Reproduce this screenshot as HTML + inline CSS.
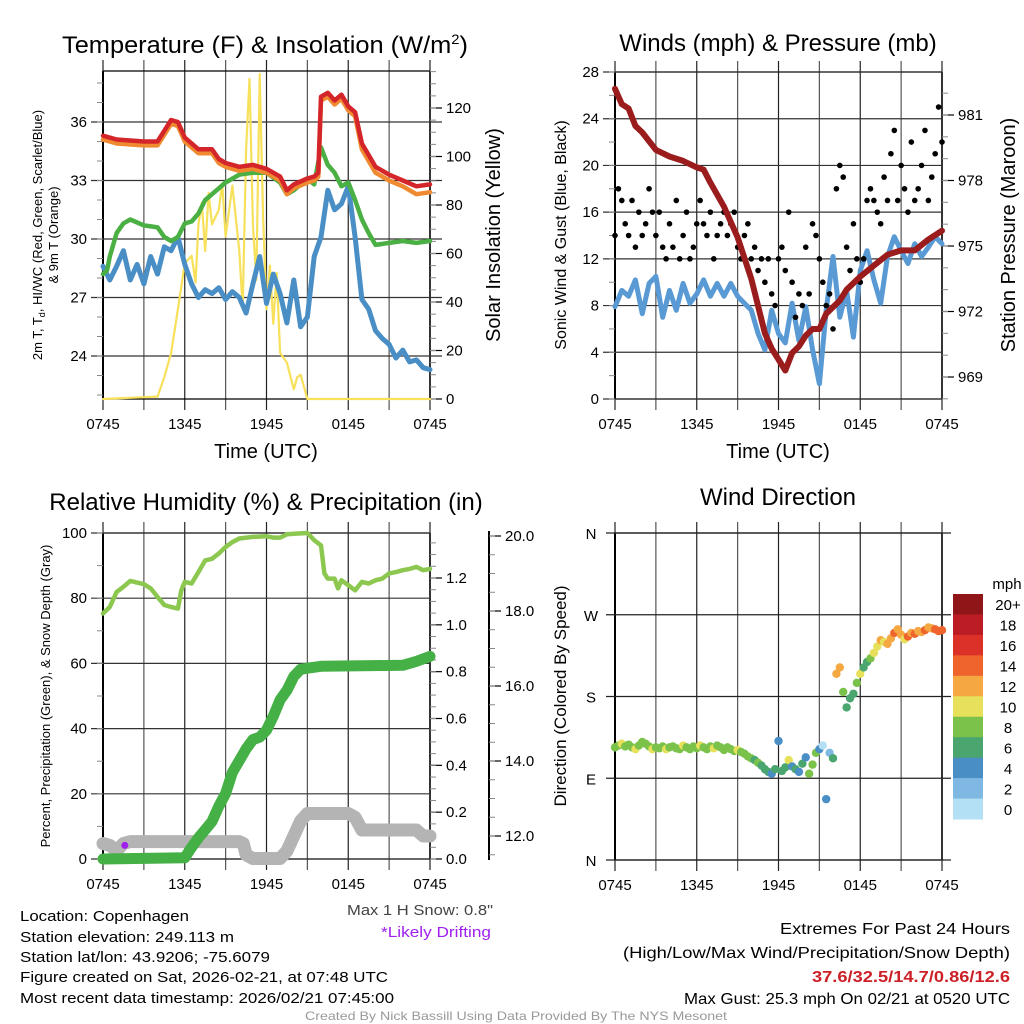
<!DOCTYPE html>
<html><head><meta charset="utf-8"><style>
html,body{margin:0;padding:0;background:#fff}
svg{display:block;font-family:"Liberation Sans",sans-serif}
</style></head><body>
<svg id="root" width="1024" height="1024" viewBox="0 0 1024 1024" xmlns="http://www.w3.org/2000/svg">
<rect width="1024" height="1024" fill="#fff"/>
<text x="265" y="53" font-size="24" text-anchor="middle" textLength="406" lengthAdjust="spacingAndGlyphs">Temperature (F) &amp; Insolation (W/m<tspan font-size="14" dy="-9">2</tspan><tspan dy="9">)</tspan></text>
<text x="778" y="51" font-size="24" text-anchor="middle">Winds (mph) &amp; Pressure (mb)</text>
<text x="266" y="510" font-size="24" text-anchor="middle">Relative Humidity (%) &amp; Precipitation (in)</text>
<text x="778" y="505" font-size="24" text-anchor="middle">Wind Direction</text>
<text x="266" y="458" font-size="20" text-anchor="middle">Time (UTC)</text>
<text x="778" y="458" font-size="20" text-anchor="middle">Time (UTC)</text>
<text transform="translate(42,235) rotate(-90)" font-size="13" text-anchor="middle">2m T, T<tspan font-size="9" dy="3">d</tspan><tspan dy="-3">, HI/WC (Red, Green, Scarlet/Blue)</tspan></text>
<text transform="translate(58,235) rotate(-90)" font-size="13" text-anchor="middle">&amp; 9m T (Orange)</text>
<text transform="translate(500,235) rotate(-90)" font-size="20" text-anchor="middle">Solar Insolation (Yellow)</text>
<text transform="translate(566,235) rotate(-90)" font-size="16" text-anchor="middle">Sonic Wind &amp; Gust (Blue, Black)</text>
<text transform="translate(1015,235) rotate(-90)" font-size="20" text-anchor="middle">Station Pressure (Maroon)</text>
<text transform="translate(50,696) rotate(-90)" font-size="13" text-anchor="middle">Percent, Precipitation (Green), &amp; Snow Depth (Gray)</text>
<text transform="translate(566,696) rotate(-90)" font-size="17" text-anchor="middle">Direction (Colored By Speed)</text>
<text x="1007" y="589" font-size="15" text-anchor="middle">mph</text>
<g font-size="15">
<text x="20" y="921" textLength="169" lengthAdjust="spacingAndGlyphs">Location: Copenhagen</text>
<text x="20" y="942" textLength="214" lengthAdjust="spacingAndGlyphs">Station elevation: 249.113 m</text>
<text x="20" y="962" textLength="250" lengthAdjust="spacingAndGlyphs">Station lat/lon: 43.9206; -75.6079</text>
<text x="20" y="982" textLength="368" lengthAdjust="spacingAndGlyphs">Figure created on Sat, 2026-02-21, at 07:48 UTC</text>
<text x="20" y="1003" textLength="374" lengthAdjust="spacingAndGlyphs">Most recent data timestamp: 2026/02/21 07:45:00</text>
</g>
<text x="347" y="915" font-size="15" fill="#444" textLength="146" lengthAdjust="spacingAndGlyphs">Max 1 H Snow: 0.8"</text>
<text x="381" y="937" font-size="15" fill="#a020f0" textLength="110" lengthAdjust="spacingAndGlyphs">*Likely Drifting</text>
<g font-size="16" text-anchor="end">
<text x="1010" y="934" textLength="230" lengthAdjust="spacingAndGlyphs">Extremes For Past 24 Hours</text>
<text x="1010" y="958" textLength="387" lengthAdjust="spacingAndGlyphs">(High/Low/Max Wind/Precipitation/Snow Depth)</text>
<text x="1010" y="982" fill="#cc2026" font-weight="bold" textLength="198" lengthAdjust="spacingAndGlyphs">37.6/32.5/14.7/0.86/12.6</text>
<text x="1010" y="1004" textLength="326" lengthAdjust="spacingAndGlyphs">Max Gust: 25.3 mph On 02/21 at 0520 UTC</text>
</g>
<text x="516" y="1020" font-size="12" fill="#999" text-anchor="middle" textLength="422" lengthAdjust="spacingAndGlyphs">Created By Nick Bassill Using Data Provided By The NYS Mesonet</text>
</svg>
<script>
// ---------- data ----------
const xTickLabels = ["0745","1345","1945","0145","0745"];
const xTickHours = [0,6,12,18,24];
const tempTicks = [24,27,30,33,36];
const solarTicks = [0,20,40,60,80,100,120];
const windTicks = [0,4,8,12,16,20,24,28];
const presTicks = [969,972,975,978,981];
const rhTicks = [0,20,40,60,80,100];
const precipTicks = [0,0.2,0.4,0.6,0.8,1.0,1.2];
const snowTicks = [12,14,16,18,20];
const dirLabels = ["N","E","S","W","N"];
const dirTicks = [0,90,180,270,360];
const cbLabels = ["20+","18","16","14","12","10","8","6","4","2","0"];
const cbColors = ["#8f1519","#bc1c24","#dc3128","#ee642c","#f5a742","#e6e05a","#7bc24a","#4aa66e","#4a8ec6","#7fb9e3","#b3e0f5"];

const tT = [0,1,3,4,5,5.5,6,7,8,8.5,9,10,11,12,13,13.5,14,15,15.5,15.8,16,16.5,17,17.5,18,18.5,19,20,21,22,23,24];
const tempRed = [35.3,35.1,35.0,35.0,36.1,36.0,35.2,34.6,34.6,34.1,33.9,33.7,33.8,33.6,33.2,32.5,32.8,33.1,33.2,33.4,37.3,37.5,37.1,37.4,36.8,36.5,34.9,33.7,33.3,33.0,32.7,32.8];
const tempOrange = [35.1,34.9,34.8,34.8,35.9,35.8,35.0,34.4,34.4,33.9,33.7,33.5,33.6,33.4,33.0,32.3,32.6,32.9,33.0,33.2,37.1,37.3,36.9,37.2,36.6,36.3,34.6,33.4,33.0,32.7,32.3,32.4];
const tGreen = [0,0.3,0.5,1,1.5,2,3,4,4.5,5,5.5,6,6.5,7,7.5,8,9,10,11,12,13,13.5,14,15,15.5,16,16.5,17,17.5,18,18.5,19,19.5,20,21,22,23,24];
const tempGreen = [28.2,28.4,29.1,30.3,30.8,31.0,30.7,30.6,30.1,29.9,30.1,30.8,30.9,31.3,32.0,32.3,32.9,33.3,33.4,33.4,32.9,32.3,32.5,33.1,32.8,34.7,33.8,33.4,32.7,32.9,32.0,31.0,30.3,29.7,29.8,29.9,29.8,29.9];
const dewBlue = [28.6,27.9,28.6,29.4,27.9,28.7,27.7,29.1,28.2,29.6,29.4,30.1,28.7,27.7,27.0,27.4,27.2,27.5,26.9,27.3,27.0,26.2,27.7,29.1,26.7,28.2,27.2,25.7,27.9,25.5,26.0,29.1,30.1,32.5,31.5,31.8,32.7,30.1,26.9,26.4,25.3,24.9,24.6,23.9,24.3,23.7,23.8,23.4,23.3];
const tSolar = [0,4,4.5,5,5.5,6,6.5,6.8,7,7.25,7.5,7.75,8,8.5,8.75,9,9.5,10,10.25,10.5,10.75,11,11.25,11.5,11.75,12,12.25,12.5,12.75,13,13.5,14,14.25,14.5,15,24];
const solar = [0,1,9,19,37,56,59,48,72,81,61,85,72,78,89,67,88,61,37,103,132,72,49,134,75,37,55,31,52,19,15,4,9,10,0,0];

const windSpeed = [7.9,9.3,8.8,10.2,7.3,9.9,10.5,7.0,9.3,7.6,9.9,8.2,9.0,10.2,8.8,9.9,8.8,9.9,8.8,8.2,7.6,5.6,4.2,7.6,5.6,4.8,8.2,5.0,7.9,4.2,1.3,7.6,12.2,7.0,9.3,5.3,11.0,12.7,10.2,8.2,12.2,13.9,12.7,11.6,13.3,12.2,13.0,13.9,13.3];
const gusts = [14,18,17,15,14,17,13,16,14,15,18,16,14,16,13,12,15,13,17,12,14,16,12,13,15,17,15,14,16,12,14,15,16,14,15,16,13,12,14,15,12,13,11,12,10,12,9,8,12,13,11,16,10,7,9,8,13,9,15,14,12,10,8,9,6,18,20,19,13,11,15,12,10,12,17,18,17,16,15,19,17,21,23,17,20,18,16,22,17,18,20,23,17,19,21,25,22];
const tPres = [0,0.5,1,1.5,2,3,4,5,6,6.5,7,8,9,10,11,11.5,12,12.5,13,13.5,14,14.5,15,15.5,16,16.5,17,18,19,20,21,22,23,24];
const pressure = [982.2,981.5,981.3,980.5,980.2,979.4,979.1,978.9,978.6,978.5,977.9,976.8,975.4,973.5,971.0,970.3,969.8,969.3,970.1,970.4,970.9,971.2,971.2,971.9,972.2,972.5,973.0,973.6,974.1,974.6,974.8,974.8,975.3,975.7];

const tRH = [0,0.5,1,1.5,2,3,3.5,4,4.5,5,5.5,5.75,6,6.5,7,7.5,8,8.5,9,9.5,10,11,12,12.5,13,13.5,14,15,15.5,16,16.25,16.5,17,17.25,17.5,18,18.5,19,19.5,20,20.5,21,21.5,22,22.5,23,23.5,24];
const rh = [75.3,77.3,81.9,83.5,85.3,84.3,83,80.4,77.9,77.3,76.8,82.4,85,84.5,88,91.6,92.1,93.7,95.7,97.2,98.3,98.8,99,98.6,98.6,99.6,99.8,100,97.8,96.2,87.6,86,86,83,85.5,84,82.4,85,84.5,85.5,86,87.6,88,88.6,89,89.6,88.6,89];
const tPrecip = [0,6,6.5,7,7.5,8,8.5,9,9.5,10,10.5,11,11.5,12,12.5,13,13.5,14,14.5,15,16,22,23,24];
const precip = [0,0.005,0.05,0.09,0.125,0.16,0.225,0.28,0.37,0.42,0.47,0.51,0.52,0.55,0.61,0.68,0.72,0.78,0.81,0.815,0.823,0.827,0.844,0.865];
const tSnow = [0,0.5,1,1.5,2,3,10,10.3,10.5,11,13,13.5,14,14.5,15,18,18.5,19,23,23.5,24];
const snow = [11.8,11.75,11.6,11.8,11.85,11.85,11.85,11.8,11.5,11.4,11.4,11.6,12.0,12.4,12.6,12.6,12.5,12.16,12.16,12.0,12.0];
const driftHour = [1.6];
const driftSnow = [11.75];

const windDir = [124,126,128,125,127,124,122,126,130,128,125,122,124,123,125,122,124,125,123,122,126,124,122,125,123,126,124,122,125,123,126,124,121,124,122,120,121,119,117,114,112,110,107,104,100,97,95,100,131,98,102,110,103,100,97,106,113,95,105,118,122,126,67,118,112,205,212,185,168,178,183,195,205,212,218,222,228,235,242,240,238,244,250,254,248,243,246,250,249,252,251,253,256,255,254,252,253];
const dirSpeed = [8,9,10,8,9,8,10,9,8,9,8,10,9,8,9,10,8,9,8,9,10,8,9,8,9,10,8,9,8,10,9,8,9,8,9,8,10,8,9,8,8,7,8,7,6,6,5,7,4,6,7,10,5,6,4,6,5,8,8,9,4,0.5,4,3,6,12,13,8,6,6,7,9,10,6,7,9,11,10,12,11,13,12,14,13,12,11,14,13,15,12,13,14,12,13,14,15,14];

// ---------- helpers ----------
const NS = "http://www.w3.org/2000/svg";
const root = document.getElementById("root");
function el(tag, attrs, parent){
  const e = document.createElementNS(NS, tag);
  for (const k in attrs) e.setAttribute(k, attrs[k]);
  (parent||root).appendChild(e);
  return e;
}
function lin(d0,d1,r0,r1){return v => r0 + (v-d0)/(d1-d0)*(r1-r0);}
function linePath(ts, vs, fx, fy){
  return ts.map((t,i)=>(i?"L":"M")+fx(t).toFixed(1)+","+fy(vs[i]).toFixed(1)).join(" ");
}
function speedColor(s){
  const idx = Math.min(10, Math.floor(s/2));
  return cbColors[10-idx];
}

function frame(P, name){
  const g = el("g", {});
  
  
  const fx = lin(0,24,P.x0,P.x1);
  for (let h=0; h<=24; h+=3){
    const gl = el("line",{x1:fx(h),x2:fx(h),y1:P.y0-11,y2:P.y1+11,stroke:(h%6? "#555":"#222"),"stroke-width":1.2},g);
    
    
  }
  xTickHours.forEach((h,i)=>{
    const t = el("text",{x:fx(h),y:P.y1+30,"font-size":15,"text-anchor":"middle"},g);
    t.textContent = xTickLabels[i];
    
    
  });
  el("line",{x1:P.x0,x2:P.x0,y1:P.y0,y2:P.y1,stroke:"#000","stroke-width":2},g);
  el("line",{x1:P.x0,x2:P.x1,y1:P.y0,y2:P.y0,stroke:"#000","stroke-width":1.2},g);
  el("line",{x1:P.x0,x2:P.x1,y1:P.y1,y2:P.y1,stroke:"#000","stroke-width":1.2},g);
  el("line",{x1:P.x1,x2:P.x1,y1:P.y0,y2:P.y1,stroke:"#000","stroke-width":1.5},g);
  return {g,fx};
}
function leftAxis(P, g, ticks, fy, fmt, minorStep, lo, hi, grid, labelX){
  ticks.forEach(v=>{
    const y = fy(v);
    if (grid){ const l = el("line",{x1:P.x0-12,x2:P.x1+ (grid===2?12:0),y1:y,y2:y,stroke:"#333","stroke-width":1.2},g);
      
       }
    const t = el("text",{x:labelX||P.x0-16,y:y+5,"font-size":15,"text-anchor":"end"},g);
    t.textContent = fmt(v);
    
    
  });
  for (let v=lo; v<=hi+1e-9; v+=minorStep){
    const y = fy(v); if (y<P.y0-0.5||y>P.y1+0.5) continue;
    el("line",{x1:P.x0-6,x2:P.x0,y1:y,y2:y,stroke:"#888","stroke-width":1},g);
  }
}
function rightAxis(x, y0, y1, g, ticks, fy, fmt, minorStep, lo, hi, big){
  ticks.forEach(v=>{
    const y = fy(v);
    el("line",{x1:x,x2:x+(big||12),y1:y,y2:y,stroke:"#000","stroke-width":1.2},g);
    const t = el("text",{x:x+16,y:y+5,"font-size":15,"text-anchor":"start"},g);
    t.textContent = fmt(v);
    
    
  });
  for (let v=lo; v<=hi+1e-9; v+=minorStep){
    const y = fy(v); if (y<y0-0.5||y>y1+0.5) continue;
    el("line",{x1:x,x2:x+6,y1:y,y2:y,stroke:"#888","stroke-width":1},g);
  }
}
function series(d, color, w, name){
  const p = el("path",{d:d,fill:"none",stroke:color,"stroke-width":w,"stroke-linejoin":"round","stroke-linecap":"round"});
  
  
  return p;
}

// ---------- panel 1 ----------
(function(){
  const P = {x0:103,x1:430,y0:71,y1:399};
  const {g,fx} = frame(P,"temperature-panel");
  const fy = lin(24,36,356,122);
  const fs = lin(0,120,399,108);
  leftAxis(P,g,tempTicks,fy,v=>String(v),1,22,38,2);
  rightAxis(P.x1,P.y0,P.y1,g,solarTicks,fs,v=>String(v),5,0,135);
  const half = windSpeed.map((_,i)=>i/2);
  series(linePath(tSolar,solar,fx,fs),"#f7e05a",2.2,"solar-insolation-line");
  series(linePath(half,dewBlue,fx,fy),"#4a8ec6",5,"dewpoint-line");
  series(linePath(tGreen,tempGreen,fx,fy),"#4bb043",4.5,"heat-index-line");
  series(linePath(tT,tempOrange,fx,fy),"#f08a30",4.5,"temp-9m-line");
  series(linePath(tT,tempRed,fx,fy),"#d4262a",4.5,"temp-2m-line");
})();

// ---------- panel 2 ----------
(function(){
  const P = {x0:615,x1:942,y0:72,y1:399};
  const {g,fx} = frame(P,"winds-panel");
  const fy = lin(0,28,399,72);
  const fp = lin(969,981,377,115);
  leftAxis(P,g,windTicks,fy,v=>String(v),2,0,28,1);
  rightAxis(P.x1,P.y0,P.y1,g,presTicks,fp,v=>String(v),1,967,983);
  const half = windSpeed.map((_,i)=>i/2);
  series(linePath(half,windSpeed,fx,fy),"#5a9ad4",5,"sonic-wind-line");
  gusts.forEach((v,i)=>{
    const c = el("circle",{cx:fx(i/4),cy:fy(v),r:2.8,fill:"#000"});
    
    
  });
  series(linePath(tPres,pressure,fx,fp),"#9b1c1c",6,"pressure-line");
})();

// ---------- panel 3 ----------
(function(){
  const P = {x0:103,x1:430,y0:533,y1:859};
  const {g,fx} = frame(P,"humidity-panel");
  const fy = lin(0,100,859,533);
  const fp = lin(0,1.2,859,578);
  const fsn = lin(12,20,836,536);
  leftAxis(P,g,rhTicks,fy,v=>String(v),10,0,100,1);
  rightAxis(P.x1,P.y0,P.y1,g,precipTicks,fp,v=>v.toFixed(1),0.05,0,1.4);
  const sa = el("line",{x1:489,x2:489,y1:531,y2:860,stroke:"#000","stroke-width":2},g);
  
  
  rightAxis(489,531,860,g,snowTicks,fsn,v=>v.toFixed(1),0.5,11,20.2);
  series(linePath(tSnow,snow,fx,fsn),"#b4b4b4",13,"snow-depth-line");
  series(linePath(tPrecip,precip,fx,fp),"#45b045",11,"precipitation-line");
  series(linePath(tRH,rh,fx,fy),"#8cc850",4.5,"relative-humidity-line");
  driftHour.forEach((h,i)=>{
    const c = el("circle",{cx:fx(h),cy:fsn(driftSnow[i]),r:3.5,fill:"#a020f0"});
    
    
  });
})();

// ---------- panel 4 ----------
(function(){
  const P = {x0:615,x1:942,y0:533,y1:860};
  const {g,fx} = frame(P,"wind-direction-panel");
  const fy = lin(0,360,860,533);
  dirTicks.forEach((v,i)=>{
    const y = fy(v);
    const l = el("line",{x1:P.x0-9,x2:P.x1+9,y1:y,y2:y,stroke:"#222","stroke-width":1.2},g);
    
    
    const t = el("text",{x:591,y:y+6,"font-size":15,"text-anchor":"middle"},g);
    t.textContent = dirLabels[i];
    
    
  });
  windDir.forEach((d,i)=>{
    const c = el("circle",{cx:fx(i/4),cy:fy(d),r:4.2,fill:speedColor(dirSpeed[i])});
    
    
  });
  const cbH = (819-594)/cbColors.length;
  cbColors.forEach((c,i)=>{
    const r = el("rect",{x:953,y:594+i*cbH,width:30,height:cbH+0.5,fill:c});
    
    
    const t = el("text",{x:1008,y:594+i*cbH+cbH/2+6,"font-size":15,"text-anchor":"middle"});
    t.textContent = cbLabels[i];
    
    
  });
})();
</script>
</body></html>
